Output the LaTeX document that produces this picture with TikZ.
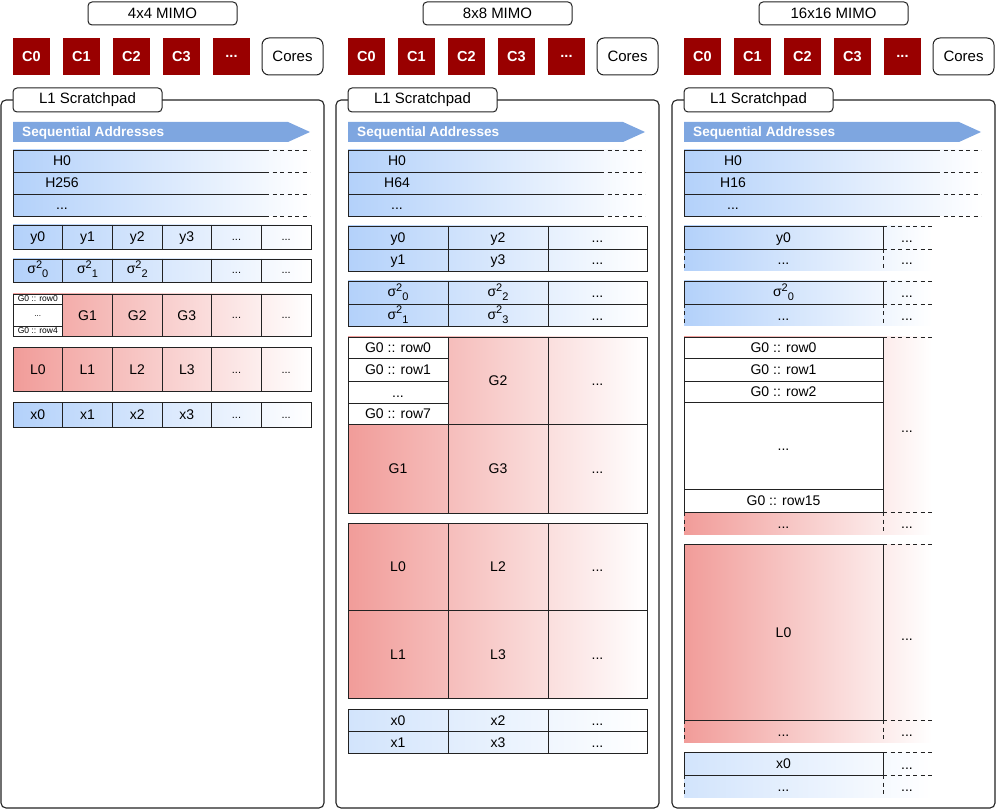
\documentclass[tikz,border=0pt]{standalone}
\usepackage{fontspec}
\setmainfont{Liberation Sans}
\definecolor{corered}{HTML}{990000}
\definecolor{arrowblue}{HTML}{7EA6E0}
\definecolor{hblue}{HTML}{B3D1FA}
\definecolor{xblue}{HTML}{D2E4FC}
\definecolor{gred}{HTML}{F19C99}
\definecolor{edge}{HTML}{222222}
\newcommand\fs[1]{\fontsize{#1}{#1}\selectfont}
\newcommand\sigq[1]{σ\raisebox{0.42em}{\fs{11}2}\raisebox{-0.28em}{\fs{11}#1}}
\tikzset{
  lbl/.style={font=\fs{14}, inner sep=0pt, text height=10pt, text depth=0pt},
  smalldots/.style={font=\fs{11}, inner sep=0pt, text height=2pt, text depth=0pt},
  tinylbl/.style={font=\fs{8.5}, inner sep=0pt, text height=6pt, text depth=0pt},
  cell/.style={draw=edge, line width=0.95pt},
  dsh/.style={draw=edge, line width=0.95pt, dash pattern=on 4pt off 3.5pt},
  panelbox/.style={draw=edge, line width=1.1pt, rounded corners=5pt},
  titlebox/.style={draw=edge, line width=1pt, rounded corners=4pt, fill=white,
    minimum width=149pt, minimum height=23pt, inner sep=0pt, font=\fs{15}},
  tabbox/.style={draw=edge, line width=1pt, rounded corners=4pt, fill=white,
    minimum width=149pt, minimum height=24pt, inner sep=0pt, font=\fs{15}},
  corebox/.style={fill=corered, minimum width=37pt, minimum height=37pt, inner sep=0pt,
    text=white, font=\bfseries\fs{14.5}},
  coresbox/.style={draw=edge, line width=1pt, rounded corners=7pt, fill=white,
    minimum width=61pt, minimum height=37pt, inner sep=0pt, font=\fs{15}},
  seqtext/.style={anchor=west, text=white, font=\bfseries\fs{13.6}, inner sep=0pt,
    text height=9.5pt, text depth=0pt}
}
% common header of a panel (coordinates in the frame of panel 1)
\newcommand\panelhead[3]{%
  \node[titlebox] (#1title) at (162.5,13.5) {#2};
  \node[corebox] (#1c0) at (31.5,56.5) {C0};
  \node[corebox] (#1c1) at (81.5,56.5) {C1};
  \node[corebox] (#1c2) at (131.5,56.5) {C2};
  \node[corebox] (#1c3) at (181.5,56.5) {C3};
  \node[corebox] (#1c4) at (231.5,56.5) {...};
  \node[coresbox] (#1cores) at (292.5,56.5) {Cores};
  \draw[panelbox] (1,100) rectangle (324,808);
  \node[tabbox] (#1tab) at (87.5,100) {L1 Scratchpad};
  \fill[arrowblue] (13,122) -- (288,122) -- (310,132) -- (288,142) -- (13,142) -- cycle;
  \node[seqtext] (#1seq) at (22,132) {Sequential Addresses};
  \shade[left color=hblue, right color=white] (13,150) rectangle (310,216);
  \draw[cell] (265,150) -- (13,150) -- (13,216) -- (265,216);
  \draw[cell] (13,172) -- (265,172) (13,194) -- (265,194);
  \draw[dsh] (265,150) -- (310,150) (265,172) -- (310,172) (265,194) -- (310,194) (265,216) -- (310,216);
  \node[lbl] (#1h0) at (62,161) {H0};
  \node[lbl] (#1h1) at (62,183) {#3};
  \node[lbl] (#1h2) at (62,205) {...};
}
% panel 1: row of six cells
\newcommand\gridsix[3]{%
  \shade[left color=#3, right color=white] (13,#1) rectangle (311,#2);
  \draw[cell] (13,#1) rectangle (311,#2);
  \foreach \xx in {62.7,112.3,162,211.7,261.3} \draw[cell] (\xx,#1) -- (\xx,#2);
}
% panel 2: block of 2x3 cells
\newcommand\gridthree[4]{%
  \shade[left color=#4, right color=white] (13,#1) rectangle (312,#3);
  \draw[cell] (13,#1) rectangle (312,#3);
  \draw[cell] (13,#2) -- (312,#2);
  \draw[cell] (113,#1) -- (113,#3) (213,#1) -- (213,#3);
}
% panel 3: block with a solid part and an open (dashed) part
\newcommand\openblock[4]{%
  \shade[left color=#4, right color=white] (13,#1) rectangle (261,#3);
  \draw[cell] (13,#1) rectangle (212,#2);
  \draw[dsh] (212,#1) -- (261,#1) (212,#2) -- (261,#2);
  \draw[dsh] (13,#2) -- (13,#3) (212,#2) -- (212,#3);
}
\begin{document}
\begin{tikzpicture}[x=1pt, y=-1pt]
\useasboundingbox (0,0) rectangle (996,810);

%================ panel 1 : 4x4 MIMO
\begin{scope}
\panelhead{a}{4x4 MIMO}{H256}
% y
\gridsix{225}{249}{hblue}
\node[lbl] (ay0) at (37.8,237) {y0};
\node[lbl] (ay1) at (87.5,237) {y1};
\node[lbl] (ay2) at (137.2,237) {y2};
\node[lbl] (ay3) at (186.8,237) {y3};
\node[smalldots] (ay4) at (236.5,240) {...};
\node[smalldots] (ay5) at (286.2,240) {...};
% sigma
\gridsix{259}{282}{hblue}
\node[lbl] (as0) at (37.8,269) {\sigq{0}};
\node[lbl] (as1) at (87.5,269) {\sigq{1}};
\node[lbl] (as2) at (137.2,269) {\sigq{2}};
\node[smalldots] (as4) at (236.5,273) {...};
\node[smalldots] (as5) at (286.2,273) {...};
% G
\gridsix{294}{336}{gred}
\fill[white] (13,294) rectangle (62.7,336);
\draw[cell] (13,294) rectangle (62.7,336);
\draw[cell] (13,304) -- (62.7,304) (13,326) -- (62.7,326);
\node[tinylbl] (ag0a) at (37.8,299) {G0 :: row0};
\node[smalldots, font=\fs{8}] (ag0b) at (37.8,316) {...};
\node[tinylbl] (ag0c) at (37.8,331) {G0 :: row4};
\node[lbl] (ag1) at (87.5,315) {G1};
\node[lbl] (ag2) at (137.2,315) {G2};
\node[lbl] (ag3) at (186.8,315) {G3};
\node[smalldots] (ag4) at (236.5,318) {...};
\node[smalldots] (ag5) at (286.2,318) {...};
% L
\gridsix{347}{391}{gred}
\node[lbl] (al0) at (37.8,369) {L0};
\node[lbl] (al1) at (87.5,369) {L1};
\node[lbl] (al2) at (137.2,369) {L2};
\node[lbl] (al3) at (186.8,369) {L3};
\node[smalldots] (al4) at (236.5,372) {...};
\node[smalldots] (al5) at (286.2,372) {...};
% x
\gridsix{402}{427}{hblue}
\node[lbl] (ax0) at (37.8,414) {x0};
\node[lbl] (ax1) at (87.5,414) {x1};
\node[lbl] (ax2) at (137.2,414) {x2};
\node[lbl] (ax3) at (186.8,414) {x3};
\node[smalldots] (ax4) at (236.5,417) {...};
\node[smalldots] (ax5) at (286.2,417) {...};
\end{scope}

%================ panel 2 : 8x8 MIMO
\begin{scope}[xshift=335pt]
\panelhead{b}{8x8 MIMO}{H64}
% y
\gridthree{226}{249}{271}{hblue}
\node[lbl] (by0) at (63,237.5) {y0};
\node[lbl] (by2) at (163,237.5) {y2};
\node[lbl] (byd0) at (262.5,237.5) {...};
\node[lbl] (by1) at (63,260) {y1};
\node[lbl] (by3) at (163,260) {y3};
\node[lbl] (byd1) at (262.5,260) {...};
% sigma
\gridthree{281}{304}{326}{hblue}
\node[lbl] (bs0) at (63,292) {\sigq{0}};
\node[lbl] (bs2) at (163,292) {\sigq{2}};
\node[lbl] (bsd0) at (262.5,292.5) {...};
\node[lbl] (bs1) at (63,314.5) {\sigq{1}};
\node[lbl] (bs3) at (163,314.5) {\sigq{3}};
\node[lbl] (bsd1) at (262.5,315) {...};
% G
\gridthree{337}{424}{513}{gred}
\fill[white] (13,337) rectangle (113,424);
\draw[cell] (13,337) rectangle (113,424);
\draw[cell] (13,358) -- (113,358) (13,381) -- (113,381) (13,403) -- (113,403);
\node[lbl] (bg0a) at (63,347.5) {G0 :: row0};
\node[lbl] (bg0b) at (63,369.5) {G0 :: row1};
\node[lbl] (bg0c) at (63,392) {...};
\node[lbl] (bg0d) at (63,413.5) {G0 :: row7};
\node[lbl] (bg2) at (163,380.5) {G2};
\node[lbl] (bgd0) at (262.5,380.5) {...};
\node[lbl] (bg1) at (63,468.5) {G1};
\node[lbl] (bg3) at (163,468.5) {G3};
\node[lbl] (bgd1) at (262.5,468.5) {...};
% L
\gridthree{523}{610}{698}{gred}
\node[lbl] (bl0) at (63,566.5) {L0};
\node[lbl] (bl2) at (163,566.5) {L2};
\node[lbl] (bld0) at (262.5,566.5) {...};
\node[lbl] (bl1) at (63,654) {L1};
\node[lbl] (bl3) at (163,654) {L3};
\node[lbl] (bld1) at (262.5,654) {...};
% x
\gridthree{709}{731}{753}{xblue}
\node[lbl] (bx0) at (63,720) {x0};
\node[lbl] (bx2) at (163,720) {x2};
\node[lbl] (bxd0) at (262.5,720) {...};
\node[lbl] (bx1) at (63,742) {x1};
\node[lbl] (bx3) at (163,742) {x3};
\node[lbl] (bxd1) at (262.5,742) {...};
\end{scope}

%================ panel 3 : 16x16 MIMO
\begin{scope}[xshift=671pt]
\panelhead{c}{16x16 MIMO}{H16}
% y
\openblock{226}{249}{271}{hblue}
\node[lbl] (cy0) at (112.5,237.5) {y0};
\node[lbl] (cyd0) at (112.5,260) {...};
\node[lbl] (cyd1) at (236,238) {...};
\node[lbl] (cyd2) at (236,260) {...};
% sigma
\openblock{281}{304}{326}{hblue}
\node[lbl] (cs0) at (112.5,292) {\sigq{0}};
\node[lbl] (csd0) at (112.5,315) {...};
\node[lbl] (csd1) at (236,293) {...};
\node[lbl] (csd2) at (236,315) {...};
% G
\shade[left color=gred, right color=white] (13,337) rectangle (261,534);
\fill[white] (13,337) rectangle (212,512);
\draw[cell] (13,337) rectangle (212,512);
\draw[cell] (13,358) -- (212,358) (13,381) -- (212,381) (13,402) -- (212,402) (13,489) -- (212,489);
\draw[dsh] (212,337) -- (261,337) (212,512) -- (261,512);
\draw[dsh] (13,512) -- (13,534) (212,512) -- (212,534);
\node[lbl] (cg0a) at (112.5,347.5) {G0 :: row0};
\node[lbl] (cg0b) at (112.5,369.5) {G0 :: row1};
\node[lbl] (cg0c) at (112.5,391.5) {G0 :: row2};
\node[lbl] (cg0d) at (112.5,445.5) {...};
\node[lbl] (cg0e) at (112.5,500.5) {G0 :: row15};
\node[lbl] (cgd0) at (236,427) {...};
\node[lbl] (cgd1) at (112.5,523) {...};
\node[lbl] (cgd2) at (236,523) {...};
% L
\openblock{544}{720}{742}{gred}
\node[lbl] (cl0) at (112.5,632) {L0};
\node[lbl] (cld0) at (236,635) {...};
\node[lbl] (cld1) at (112.5,731) {...};
\node[lbl] (cld2) at (236,731) {...};
% x
\openblock{752}{775}{797}{xblue}
\node[lbl] (cx0) at (112.5,763.5) {x0};
\node[lbl] (cxd0) at (112.5,786) {...};
\node[lbl] (cxd1) at (236,764) {...};
\node[lbl] (cxd2) at (236,786) {...};
\end{scope}
\end{tikzpicture}
\end{document}
